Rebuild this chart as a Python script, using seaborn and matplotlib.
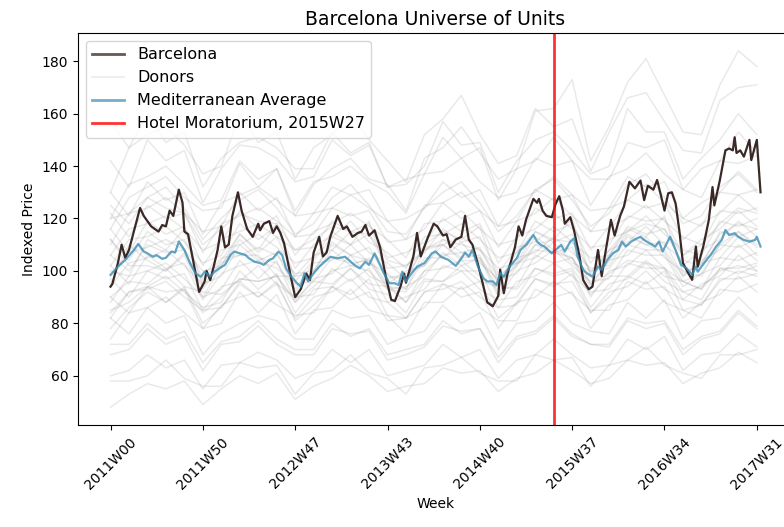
import matplotlib
matplotlib.use("Agg")
import matplotlib.pyplot as plt
from matplotlib.lines import Line2D
import pandas as pd
import seaborn as sns

# Barcelona index (week index since 2011W00)
bcn_weeks = [0, 1, 4, 6, 8, 10, 13, 16, 18, 22, 26, 28, 30, 32, 34, 37, 39, 40, 42, 45,
             48, 51, 52, 54, 56, 58, 60, 62, 64, 66, 69, 71, 74, 77, 80, 81, 83, 86, 88, 90,
             92, 94, 97, 100, 103, 106, 108, 110, 113, 115, 117, 119, 123, 126, 128, 131, 134, 136, 138, 140,
             143, 146, 149, 152, 154, 157, 159, 160, 164, 166, 168, 172, 175, 177, 180, 182, 184, 187, 190, 192,
             194, 196, 199, 202, 204, 207, 210, 211, 213, 215, 219, 221, 223, 225, 229, 231, 232, 234, 236, 239,
             241, 243, 245, 246, 249, 251, 254, 256, 259, 261, 264, 266, 268, 271, 273, 276, 278, 281, 284, 287,
             289, 291, 294, 296, 298, 300, 302, 304, 306, 308, 310, 313, 315, 317, 318, 321, 324, 326, 327, 330,
             333, 335, 337, 338, 339, 341, 343, 346, 347, 350, 352]
bcn_price = [94, 95, 103, 110, 105, 108, 116, 124, 121, 117, 115, 117.5, 117, 123, 121, 131, 126, 115, 114, 103,
             92, 96, 100, 96.5, 102, 108, 117, 109, 110, 121, 130, 123, 116, 113, 118, 115.5, 118, 119, 114.5, 117,
             114.5, 110.5, 100, 90, 93, 99, 96.5, 107, 113, 105.5, 107, 113, 121, 116, 117, 113, 114.5, 115, 117.5, 113.5,
             115.5, 109, 98, 89, 88.5, 94, 99, 95.5, 105.5, 114.5, 105.5, 113, 118, 117, 113.5, 114, 109, 112, 113, 121,
             112, 110, 102.5, 94, 88, 86.5, 90.5, 100.5, 91.5, 99, 109, 117, 113.5, 119.5, 127.5, 126, 127.5, 123, 121, 120.5,
             125.5, 128.5, 123, 118, 120.5, 115.5, 105.5, 96.5, 93, 94, 108, 98, 107, 119.5, 113.5, 121, 124.5, 134, 131.5, 134.5,
             127, 132.5, 131, 134.7, 129, 123, 129.6, 130, 125.8, 115.6, 103, 99, 96.6, 109.3, 101.6, 109.3, 119.4, 132, 125, 134.7,
             146, 146.7, 146, 151, 145, 146, 143.6, 150, 142.3, 150, 130]

# Mediterranean average
med_weeks = [0, 4, 8, 12, 15, 18, 20, 23, 25, 28, 30, 33, 35, 37, 40, 43, 46, 49, 51, 54,
             56, 59, 62, 65, 67, 70, 73, 75, 78, 81, 83, 86, 88, 91, 93, 95, 98, 101, 103, 105,
             107, 110, 113, 116, 119, 123, 127, 129, 132, 135, 138, 140, 143, 146, 148, 151, 154, 156, 158, 160,
             163, 166, 170, 174, 176, 179, 183, 187, 190, 192, 194, 196, 199, 202, 204, 207, 209, 211, 213, 216,
             220, 222, 225, 227, 229, 231, 233, 235, 239, 241, 244, 246, 249, 251, 253, 256, 258, 261, 264, 266,
             269, 272, 275, 277, 279, 282, 285, 287, 289, 292, 295, 297, 299, 303, 306, 309, 312, 315, 317, 318,
             322, 325, 328, 331, 333, 335, 338, 340, 343, 346, 349, 350, 352]
med_price = [98.5, 101.6, 104.2, 107.4, 110.3, 107.4, 106.7, 105.4, 106, 104.6, 105, 107.4, 107, 111.2, 108, 103, 99, 97.8, 99.7, 97.8,
             99.5, 101, 102.3, 106.1, 107.4, 106.7, 106.1, 104.8, 103.5, 103, 102.3, 104.2, 104.8, 107.4, 106, 101, 97.8, 95.3, 94, 99.1,
             96, 99.1, 101.6, 103.5, 105.4, 104.8, 105.4, 104.2, 102.3, 101, 103.5, 102.3, 106.7, 102.3, 99.1, 95.3, 95.3, 94.6, 99.7, 96,
             99.1, 101.6, 103, 106.7, 107.4, 105.4, 104.2, 101.9, 104.8, 107, 105.4, 108, 101.6, 97.2, 96, 96, 94.6, 99.1, 97.8, 101.6,
             104.8, 108, 109.9, 111.8, 113.7, 111.2, 109.9, 109.3, 106.7, 108, 109.9, 107.4, 111.2, 112.4, 105.4, 100.4, 99.1, 97.8, 101.6, 100.4,
             104.2, 106.7, 108, 111.2, 109.3, 111.2, 112.4, 113, 111.8, 110.5, 109.3, 111.2, 107.4, 113, 108, 102.3, 101, 98.5, 101.6, 99.7,
             103.5, 106.1, 109.3, 111.8, 115.6, 113.7, 114.4, 113, 111.8, 111.2, 111.8, 113, 109.3]

# Donor cities, sampled every 10 weeks
donor_weeks = list(range(0, 351, 10))
donors = [
    [48, 53, 57, 55, 58, 49, 55, 60, 57, 61, 51, 56, 59, 64, 60, 54, 56, 57, 63, 61, 62, 54, 59, 61, 66, 62, 57, 59, 66, 64, 65, 57, 61, 63, 69, 65],
    [60, 62, 68, 63, 66, 55, 64, 65, 69, 66, 59, 62, 70, 65, 70, 60, 62, 64, 72, 67, 70, 59, 66, 68, 74, 68, 63, 64, 74, 70, 75, 62, 68, 69, 76, 71],
    [68, 70, 78, 72, 75, 62, 72, 73, 79, 72, 68, 68, 78, 76, 77, 66, 68, 71, 79, 77, 78, 65, 74, 76, 82, 75, 72, 71, 81, 78, 80, 68, 74, 76, 84, 78],
    [82, 76, 86, 80, 83, 68, 76, 80, 83, 81, 74, 74, 85, 82, 83, 72, 75, 77, 87, 80, 84, 70, 80, 81, 88, 80, 77, 76, 88, 82, 89, 74, 81, 82, 90, 83],
    [74, 84, 86, 90, 84, 78, 80, 92, 84, 91, 76, 85, 86, 93, 85, 83, 76, 88, 88, 94, 86, 81, 81, 93, 90, 92, 78, 87, 89, 96, 88, 85, 82, 93, 92, 95],
    [90, 84, 94, 88, 93, 78, 87, 90, 92, 87, 83, 84, 94, 89, 92, 81, 82, 86, 95, 90, 92, 78, 88, 90, 96, 91, 85, 85, 96, 93, 94, 82, 88, 91, 98, 92],
    [82, 92, 94, 98, 92, 86, 88, 100, 93, 99, 84, 93, 94, 101, 93, 91, 84, 96, 96, 100, 93, 89, 90, 101, 98, 100, 86, 95, 97, 103, 96, 92, 89, 101, 99, 102],
    [97, 90, 100, 97, 99, 85, 94, 96, 102, 95, 90, 91, 101, 96, 101, 88, 90, 93, 102, 100, 100, 86, 96, 98, 103, 98, 92, 93, 103, 101, 101, 89, 95, 98, 106, 100],
    [88, 98, 100, 103, 97, 90, 93, 104, 97, 104, 88, 97, 99, 106, 98, 95, 88, 100, 101, 104, 98, 93, 94, 106, 103, 105, 90, 100, 102, 108, 101, 96, 93, 105, 104, 107],
    [102, 95, 106, 101, 103, 89, 99, 102, 104, 101, 95, 96, 105, 103, 104, 93, 94, 98, 107, 102, 105, 90, 100, 103, 108, 102, 96, 97, 108, 106, 106, 94, 99, 102, 110, 104],
    [94, 103, 105, 108, 102, 95, 98, 110, 104, 107, 93, 103, 104, 110, 103, 99, 93, 105, 105, 111, 103, 97, 99, 110, 107, 109, 95, 104, 106, 113, 105, 100, 98, 110, 109, 112],
    [106, 100, 110, 107, 108, 93, 103, 106, 109, 106, 99, 100, 111, 106, 109, 97, 99, 102, 112, 107, 109, 95, 105, 107, 113, 107, 101, 102, 113, 110, 111, 98, 104, 108, 115, 109],
    [98, 107, 109, 112, 108, 100, 102, 114, 107, 113, 98, 106, 108, 115, 107, 103, 97, 109, 110, 113, 108, 101, 103, 115, 111, 114, 99, 108, 111, 117, 110, 104, 102, 115, 113, 116],
    [112, 104, 115, 110, 112, 97, 108, 110, 114, 109, 103, 105, 115, 110, 114, 101, 102, 107, 116, 111, 113, 99, 109, 111, 117, 111, 105, 106, 117, 114, 116, 102, 108, 112, 119, 113],
    [102, 112, 113, 117, 111, 103, 106, 118, 112, 117, 101, 110, 113, 119, 111, 107, 101, 113, 114, 118, 112, 105, 107, 119, 115, 118, 103, 112, 115, 121, 114, 108, 106, 119, 117, 120],
    [116, 107, 119, 114, 117, 102, 112, 115, 118, 113, 108, 109, 119, 115, 118, 105, 107, 111, 120, 115, 118, 103, 113, 116, 122, 116, 109, 110, 121, 119, 120, 106, 112, 116, 123, 117],
    [106, 116, 118, 121, 116, 108, 111, 123, 116, 121, 106, 115, 118, 122, 117, 112, 105, 118, 119, 123, 116, 110, 112, 124, 120, 122, 108, 117, 120, 125, 119, 113, 110, 123, 122, 124],
    [122, 113, 125, 120, 122, 107, 118, 121, 124, 119, 113, 114, 124, 121, 123, 111, 112, 116, 126, 120, 123, 109, 119, 122, 128, 121, 115, 116, 127, 124, 126, 112, 118, 122, 129, 123],
    [110, 122, 124, 128, 122, 115, 117, 130, 123, 128, 113, 122, 124, 129, 124, 119, 112, 125, 126, 130, 123, 117, 119, 131, 127, 129, 115, 124, 127, 133, 126, 120, 117, 130, 129, 131],
    [130, 121, 134, 127, 130, 114, 126, 129, 132, 127, 121, 122, 132, 129, 131, 119, 120, 124, 134, 128, 131, 117, 127, 130, 136, 129, 123, 124, 136, 132, 134, 120, 126, 130, 138, 131],
    [120, 133, 136, 140, 133, 125, 127, 142, 135, 139, 123, 134, 136, 140, 134, 130, 122, 137, 138, 143, 134, 128, 130, 143, 140, 142, 125, 136, 139, 145, 137, 131, 128, 142, 141, 144],
    [142, 132, 150, 142, 146, 126, 139, 148, 147, 143, 134, 136, 150, 144, 148, 132, 133, 140, 157, 148, 149, 130, 142, 150, 153, 146, 137, 140, 162, 153, 153, 135, 143, 150, 160, 152],
    [130, 147, 152, 155, 148, 137, 140, 160, 149, 153, 135, 147, 152, 160, 150, 142, 134, 152, 158, 167, 152, 141, 144, 162, 155, 158, 138, 153, 166, 168, 157, 146, 145, 165, 170, 171],
    [116, 128, 132, 136, 128, 123, 124, 141, 132, 139, 121, 133, 139, 143, 135, 133, 123, 143, 147, 155, 145, 135, 139, 161, 162, 173, 142, 155, 172, 181, 167, 153, 152, 171, 184, 178],
    [157, 147, 160, 149, 153, 132, 143, 149, 151, 147, 139, 139, 153, 145, 149, 132, 135, 137, 151, 143, 147, 127, 139, 142, 151, 142, 135, 135, 149, 147, 150, 131, 139, 142, 153, 145],
    [90, 96, 95, 101, 94, 92, 91, 97, 96, 98, 89, 96, 95, 101, 95, 94, 88, 97, 96, 102, 96, 94, 93, 101, 99, 101, 91, 98, 98, 104, 98, 96, 93, 101, 101, 103],
    [112, 102, 102, 100, 107, 96, 105, 106, 106, 98, 98, 99, 108, 102, 105, 95, 100, 102, 110, 104, 104, 94, 103, 105, 111, 103, 100, 101, 110, 108, 108, 98, 103, 105, 113, 106],
    [84, 92, 93, 96, 90, 85, 86, 96, 90, 95, 82, 90, 92, 97, 90, 88, 82, 92, 93, 96, 90, 86, 87, 97, 95, 96, 84, 92, 94, 100, 93, 89, 87, 97, 97, 99],
    [72, 72, 80, 74, 77, 65, 73, 75, 81, 74, 70, 70, 80, 75, 78, 68, 70, 72, 81, 76, 78, 67, 75, 77, 83, 76, 72, 72, 82, 80, 81, 70, 75, 77, 85, 79],
    [58, 58, 60, 66, 59, 56, 56, 65, 63, 64, 53, 61, 62, 68, 61, 59, 53, 63, 64, 67, 61, 58, 58, 68, 66, 67, 56, 64, 66, 71, 64, 61, 59, 68, 68, 70],
    [85, 88, 94, 92, 93, 84, 90, 97, 96, 98, 88, 94, 100, 102, 100, 93, 92, 100, 106, 107, 105, 96, 102, 110, 112, 111, 100, 106, 115, 118, 116, 106, 110, 118, 124, 122],
    [120, 122, 128, 124, 122, 110, 116, 122, 119, 118, 108, 112, 117, 115, 114, 104, 102, 108, 112, 110, 108, 98, 103, 108, 107, 105, 95, 99, 104, 103, 101, 92, 94, 100, 102, 100],
    [100, 98, 112, 108, 116, 94, 104, 114, 108, 118, 96, 104, 113, 110, 119, 98, 97, 110, 115, 112, 117, 96, 107, 115, 112, 120, 98, 108, 116, 113, 121, 99, 103, 114, 118, 116],
    [95, 110, 104, 100, 106, 90, 102, 112, 105, 103, 92, 100, 110, 106, 104, 94, 93, 108, 110, 105, 106, 91, 102, 113, 108, 105, 94, 104, 114, 110, 107, 96, 99, 110, 115, 110],
    [78, 86, 92, 88, 94, 80, 86, 95, 90, 96, 81, 87, 94, 91, 97, 83, 82, 92, 95, 93, 96, 82, 88, 97, 94, 99, 84, 90, 98, 95, 100, 85, 87, 96, 100, 98],
    [125, 118, 128, 132, 124, 112, 120, 127, 131, 124, 114, 118, 128, 133, 125, 115, 114, 124, 130, 134, 126, 115, 121, 131, 135, 127, 117, 122, 133, 137, 128, 118, 121, 132, 137, 130],
]

tick_weeks = [0, 50, 100, 150, 200, 250, 300, 350]
tick_labels = ["2011W00", "2011W50", "2012W47", "2013W43", "2014W40", "2015W37", "2016W34", "2017W31"]
moratorium_week = 240

donor_df = pd.DataFrame(
    [(i, w, v) for i, d in enumerate(donors) for w, v in zip(donor_weeks, d)],
    columns=["donor", "week", "price"],
)
bcn_df = pd.DataFrame({"week": bcn_weeks, "price": bcn_price})
med_df = pd.DataFrame({"week": med_weeks, "price": med_price})

fig = plt.figure(figsize=(7.84, 5.27), dpi=100)
ax = fig.add_axes([0.0995, 0.1935, 0.912, 0.744])

bcn_color = "#25120f"
med_color = "#3a8db5"
donor_color = "gray"

sns.lineplot(data=donor_df, x="week", y="price", units="donor", estimator=None,
             color=donor_color, alpha=0.17, lw=1.1, ax=ax, legend=False)
sns.lineplot(data=bcn_df, x="week", y="price", color=bcn_color, alpha=0.9, lw=1.6, ax=ax)
sns.lineplot(data=med_df, x="week", y="price", color=med_color, alpha=0.8, lw=1.6, ax=ax)
ax.axvline(moratorium_week, color="red", alpha=0.8, lw=2)

ax.set_xticks(tick_weeks)
ax.set_xticklabels(tick_labels, rotation=45)
ax.set_xlabel("Week")
ax.set_ylabel("Indexed Price")
ax.set_title("Barcelona Universe of Units", fontsize=13.5)

handles = [
    Line2D([], [], color=bcn_color, alpha=0.7, lw=2, label="Barcelona"),
    Line2D([], [], color=donor_color, alpha=0.17, lw=1.1, label="Donors"),
    Line2D([], [], color=med_color, alpha=0.7, lw=2, label="Mediterranean Average"),
    Line2D([], [], color="red", alpha=0.8, lw=2, label="Hotel Moratorium, 2015W27"),
]
ax.legend(handles=handles, loc="upper left", fontsize=11.5)

fig.savefig("out.png", dpi=100)
